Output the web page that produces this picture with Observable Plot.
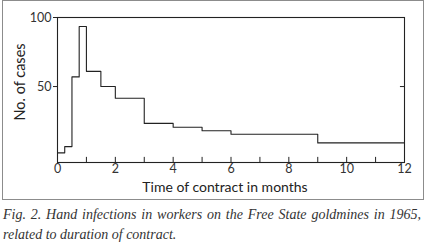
<!DOCTYPE html>
<html>
<head>
<meta charset="utf-8">
<script src="https://cdn.jsdelivr.net/npm/d3@7"></script>
<script src="https://cdn.jsdelivr.net/npm/@observablehq/plot@0.6"></script>
<style>
  html, body { margin: 0; padding: 0; background: #fff; }
  #wrap { position: relative; width: 424px; height: 245px; overflow: hidden; }
  #border { position: absolute; left: 2px; top: 0px; width: 420px; height: 198px; border: 1px solid #8c8c8c; }
  #chart { position: absolute; left: 0; top: 0; }
  .cap { position: absolute; left: 3px; width: 418px; font-family: "Liberation Serif", serif; font-style: italic; font-size: 14px; color: #333; white-space: nowrap; }
  #cap1 { top: 207px; text-align: justify; text-align-last: justify; }
  #cap2 { top: 227px; }
</style>
</head>
<body>
<div id="wrap">
  <div id="border"></div>
  <div id="chart"></div>
  <div class="cap" id="cap1">Fig. 2. Hand infections in workers on the Free State goldmines in 1965,</div>
  <div class="cap" id="cap2">related to duration of contract.</div>
</div>
<script>
// Interval boundaries (months) and number of cases in each interval
const months = [0, 0.25, 0.5, 0.75, 1, 1.5, 2, 3, 4, 5, 6, 9, 12];
const cases = [2, 6.5, 57, 93.5, 61, 50, 41.5, 23.3, 20.5, 18, 15.5, 9.2];
const xTicks = [0, 1, 2, 3, 4, 5, 6, 7, 8, 9, 10, 11, 12];
const xTickLabels = [0, 2, 4, 6, 8, 10, 12];
const yTickLabels = [50, 100];
const xTitle = "Time of contract in months";
const yTitle = "No. of cases";

const steps = months.map((m, i) => ({ m, c: cases[Math.min(i, cases.length - 1)] }));

const ink = "#222";
const chart = Plot.plot({
  width: 424,
  height: 200,
  marginLeft: 57,
  marginRight: 20,
  marginTop: 17,
  marginBottom: 38,
  style: { fontFamily: "Lato, sans-serif", fontSize: "12px", color: "#333", background: "transparent" },
  x: { domain: [0, 12] },
  y: { domain: [-5, 100] },
  marks: [
    Plot.frame({ stroke: ink, strokeWidth: 1.1 }),
    Plot.axisY({ ticks: yTickLabels, tickSize: 4, tickPadding: 2, label: null, fontSize: 12.5, stroke: ink }),
    Plot.axisX({ ticks: xTickLabels, tickSize: 0, tickPadding: 2, label: null, fontSize: 12.5 }),
    Plot.ruleX(xTicks, { x: d => d, y1: -5, y2: -1.3, stroke: ink }),
    Plot.ruleY([50], { y: d => d, x1: 11.86, x2: 12, stroke: ink }),
    Plot.line(steps, { x: "m", y: "c", curve: "step-after", stroke: ink, strokeWidth: 1.1 }),
    Plot.text([xTitle], { frameAnchor: "bottom", dy: 29, dx: -6, fontSize: 14, fill: "#222" }),
    Plot.text([yTitle], { frameAnchor: "left", textAnchor: "middle", rotate: -90, dx: -37, dy: -8, fontSize: 14.5, fill: "#222" })
  ]
});
document.getElementById("chart").appendChild(chart);
</script>
</body>
</html>
